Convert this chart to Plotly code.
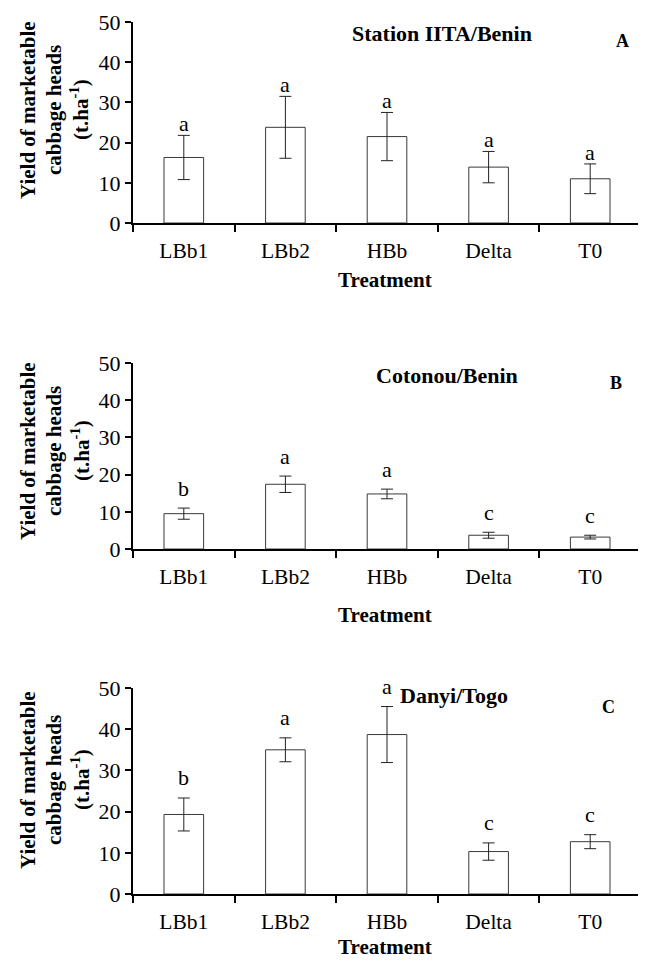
import plotly.graph_objects as go

treatments = ["LBb1", "LBb2", "HBb", "Delta", "T0"]

# Panel A - Station IITA/Benin
yield_A = [16.3, 23.8, 21.5, 13.9, 11.0]
err_A = [5.5, 7.7, 6.0, 3.9, 3.7]
letters_A = ["a", "a", "a", "a", "a"]

# Panel B - Cotonou/Benin
yield_B = [9.5, 17.4, 14.8, 3.7, 3.2]
err_B = [1.5, 2.2, 1.3, 0.8, 0.5]
letters_B = ["b", "a", "a", "c", "c"]

# Panel C - Danyi/Togo
yield_C = [19.3, 35.0, 38.7, 10.3, 12.7]
err_C = [4.0, 2.9, 6.8, 2.1, 1.7]
letters_C = ["b", "a", "a", "c", "c"]

panels = [
    ("Station IITA/Benin", "A", yield_A, err_A, letters_A),
    ("Cotonou/Benin", "B", yield_B, err_B, letters_B),
    ("Danyi/Togo", "C", yield_C, err_C, letters_C),
]

# the page body adds an 8px margin, so the figure is drawn 8px smaller and
# all page-pixel positions are shifted back by that offset
OFF = 8
W, H = 646 - OFF, 960 - OFF
L, R = 133 - OFF, 5
PW = W - L - R

def px_x(p):
    return (p - OFF - L) / PW

def px_y(p):
    return 1 - (p - OFF) / H

# page-pixel layout: (axis top, axis bottom, title x, title y, tag x, tag y, treatment y, letter yshift, ytitle center)
geo = [
    (22, 223, 442, 33, 622, 41, 280, -3, 110),
    (363, 549, 447, 376, 616, 383, 615, 5, 451),
    (688, 894, 454, 695, 608, 707, 947, 6, 780),
]

SERIF = "Liberation Serif, Times New Roman, serif"
fig = go.Figure()
annotations = []

for i, ((title, tag, vals, errs, lets), g) in enumerate(zip(panels, geo)):
    n = "" if i == 0 else str(i + 1)
    top, bot, tx, ty, lx, ly, try_, ysh, ytc = g
    fig.add_trace(go.Bar(
        x=treatments, y=vals,
        xaxis="x" + n, yaxis="y" + n,
        marker=dict(color="white", line=dict(color="#3a3a3a", width=1)),
        error_y=dict(type="data", array=errs, color="#222222", thickness=1, width=6),
        showlegend=False,
    ))
    fig.update_layout(**{
        "xaxis" + n: dict(
            domain=[0, 1], anchor="y" + n, type="category", automargin=False,
            showline=True, linecolor="black", linewidth=2,
            ticks="outside", tickson="boundaries", ticklen=7, tickwidth=2, tickcolor="black",
            tickfont=dict(family=SERIF, size=21.5, color="black"),
            ticklabelstandoff=7, showgrid=False, zeroline=False,
        ),
        "yaxis" + n: dict(
            domain=[px_y(bot), px_y(top)], anchor="x" + n, range=[0, 50], automargin=False,
            tickvals=[0, 10, 20, 30, 40, 50],
            showline=True, linecolor="black", linewidth=2,
            ticks="outside", ticklen=6, tickwidth=2, tickcolor="black",
            tickfont=dict(family=SERIF, size=22, color="black"),
            showgrid=False, zeroline=False,
        ),
    })
    # significance letters
    for t, v, e, l in zip(treatments, vals, errs, lets):
        annotations.append(dict(
            x=t, y=v + e, xref="x" + n, yref="y" + n, text=l, showarrow=False,
            yanchor="bottom", yshift=ysh,
            font=dict(family=SERIF, size=22, color="black"),
        ))
    # panel title and tag
    annotations.append(dict(
        x=px_x(tx), y=px_y(ty), xref="paper", yref="paper", text="<b>%s</b>" % title,
        showarrow=False, font=dict(family=SERIF, size=22, color="black"),
        xanchor="center", yanchor="middle",
    ))
    annotations.append(dict(
        x=px_x(lx), y=px_y(ly), xref="paper", yref="paper", text="<b>%s</b>" % tag,
        showarrow=False, font=dict(family=SERIF, size=18, color="black"),
        xanchor="center", yanchor="middle",
    ))
    # x axis title
    annotations.append(dict(
        x=px_x(385), y=px_y(try_), xref="paper", yref="paper", text="<b>Treatment</b>",
        showarrow=False, font=dict(family=SERIF, size=21, color="black"),
        xanchor="center", yanchor="middle",
    ))
    # y axis title (three lines)
    yc = px_y(ytc)
    for xpx, txt in [(28, "Yield of marketable"), (54, "cabbage heads"), (80, "(t.ha<sup>-1</sup>)")]:
        annotations.append(dict(
            x=px_x(xpx), y=yc, xref="paper", yref="paper", text="<b>%s</b>" % txt,
            showarrow=False, textangle=-90,
            font=dict(family=SERIF, size=21, color="black"),
            xanchor="center", yanchor="middle",
        ))

fig.update_layout(
    width=W, height=H,
    margin=dict(l=L, r=R, t=0, b=0, autoexpand=False),
    paper_bgcolor="white", plot_bgcolor="white",
    bargap=0.61,
    annotations=annotations,
)

fig.write_html("out.html")
